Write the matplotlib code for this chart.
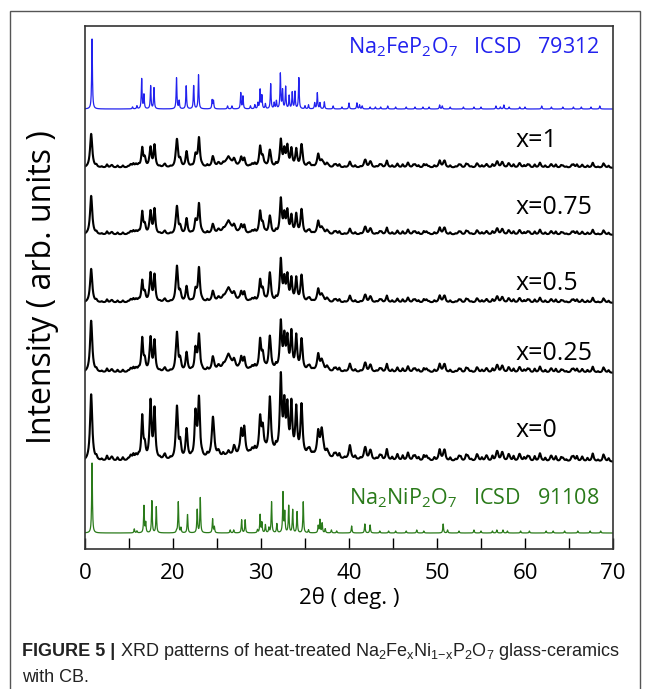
import numpy as np
import matplotlib
matplotlib.use("Agg")
import matplotlib.pyplot as plt
from matplotlib.patches import Rectangle

plt.rcParams['font.family'] = ['Open Sans', 'DejaVu Sans']
plt.rcParams['mathtext.fontset'] = 'custom'
plt.rcParams['mathtext.rm'] = 'Open Sans'
plt.rcParams['mathtext.default'] = 'regular'

# ---------------- data ----------------
# reference pattern Na2FeP2O7 (ICSD 79312): peak position (deg) / height
fe_pos = [10.8, 15.4, 15.9, 16.44, 16.7, 17.46, 17.84, 20.4, 20.7, 21.5, 22.35, 22.9,
          24.45, 24.6, 26.2, 26.7, 27.7, 27.95, 28.8, 29.3, 29.65, 29.9, 30.1, 30.5,
          31.1, 31.5, 31.75, 32.2, 32.45, 32.8, 33.2, 33.55, 33.86, 34.3, 35.0, 35.4,
          36.1, 36.4, 36.7, 37.2, 38.2, 39.2, 40.0, 40.9, 41.2, 41.5, 42.4, 43.0,
          43.6, 44.4, 45.3, 46.5, 47.5, 48.4, 49.1, 50.3, 50.6, 51.5, 53.0, 54.2,
          55.0, 56.7, 57.2, 57.6, 58.2, 59.4, 60.0, 61.9, 63.0, 64.3, 65.5, 66.4,
          67.5, 68.5]
fe_int = [70, 2, 3, 30, 14, 23, 21, 31, 8, 23, 24, 34,
          9, 8, 3, 3, 16, 13, 3, 4, 6, 19, 13, 5,
          25, 6, 8, 35, 19, 22, 13, 17, 17, 31, 3, 4,
          6, 16, 6, 7, 3, 2, 6, 6, 4, 3, 2, 2,
          2, 3, 2, 2, 2, 2, 2, 4, 3, 2, 2, 2,
          2, 3, 2, 4, 2, 2, 2, 3, 2, 2, 2, 2,
          2, 3]

# reference pattern Na2NiP2O7 (ICSD 91108)
ni_pos = [10.8, 15.6, 15.9, 16.7, 16.9, 17.6, 18.1, 20.4, 20.6, 20.9, 21.65, 22.75,
          23.1, 24.5, 24.7, 26.5, 26.9, 27.8, 28.2, 29.6, 29.9, 30.1, 30.5, 30.9,
          31.2, 31.8, 32.5, 32.7, 33.15, 33.6, 34.1, 34.8, 35.4, 36.5, 36.7, 36.95,
          37.3, 38.0, 38.6, 40.3, 41.8, 42.4, 43.5, 44.5, 45.3, 46.5, 47.7, 48.5,
          50.7, 51.2, 52.5, 54.2, 55.0, 56.3, 56.8, 57.5, 58.0, 59.5, 60.5, 62.4,
          63.2, 64.5, 66.0, 67.4, 68.6]
ni_int = [70, 4, 2, 27, 10, 32, 26, 2, 31, 5, 19, 24,
          35, 14, 6, 3, 3, 13, 13, 3, 18, 10, 8, 5,
          31, 9, 40, 20, 28, 23, 21, 31, 3, 7, 13, 10,
          4, 3, 2, 7, 9, 8, 2, 2, 2, 2, 3, 2,
          9, 3, 2, 3, 2, 2, 3, 3, 2, 2, 2, 2,
          2, 2, 2, 2, 2]

# glass-ceramic samples: shared peak positions / widths (deg)
pk_pos = [10.7, 16.5, 16.8, 17.45, 17.9, 20.45, 20.8, 21.55, 22.55, 22.95, 24.55, 26.3,
          27.75, 28.1, 29.9, 30.2, 31.0, 32.25, 32.65, 33.0, 33.45, 34.0, 34.6, 36.5,
          36.9, 40.1]
pk_w = [0.15, 0.12, 0.12, 0.12, 0.12, 0.13, 0.12, 0.13, 0.12, 0.13, 0.17, 0.5,
        0.14, 0.14, 0.14, 0.14, 0.14, 0.13, 0.12, 0.12, 0.12, 0.12, 0.13, 0.17,
        0.17, 0.17]
h_x1 = [34, 19, 8, 19, 19, 27, 6, 14, 11, 29, 8, 9, 9, 6, 18, 9, 16, 26, 16, 19, 16, 17, 21, 10, 6, 4]
h_x075 = [39, 22, 8, 22, 22, 27, 6, 14, 12, 30, 7, 12, 8, 6, 20, 9, 17, 34, 18, 21, 16, 19, 23, 10, 6, 4]
h_x05 = [34, 21, 8, 28, 24, 35, 8, 14, 11, 34, 8, 13, 9, 7, 19, 11, 28, 41, 21, 24, 21, 23, 25, 10, 7, 5]
h_x025 = [52, 33, 10, 33, 27, 38, 10, 17, 21, 36, 11, 15, 12, 9, 27, 14, 32, 46, 31, 29, 35, 33, 29, 13, 10, 6]
h_x0 = [67, 43, 12, 57, 45, 51, 14, 27, 43, 59, 37, 3, 24, 23, 31, 23, 53, 74, 45, 42, 46, 44, 47, 19, 26, 11]

# small bumps of the samples (mostly high angle)
bump_pos = [13.0, 15.2, 15.8, 19.0, 25.2, 27.0, 29.0, 35.5, 37.5, 38.5, 41.8, 42.4,
            43.5, 44.3, 45.5, 46.7, 47.5, 48.8, 50.3, 50.8, 52.5, 53.5, 54.6, 55.6,
            56.8, 57.4, 58.2, 59.4, 60.3, 61.7, 63.0, 64.3, 65.5, 66.5, 67.7, 69.0]
bump_h = [2, 3, 3, 2, 3, 4, 3, 4, 4, 3, 6, 5,
          3, 4, 3, 4, 3, 3, 6, 5, 3, 3, 3, 3,
          5, 5, 3, 4, 3, 4, 3, 2, 3, 2, 3, 2]
# fine wiggles of the measured baseline
wig_pos = np.arange(11.3, 70, 0.6)
wig_h = [2, 1, 3, 1, 2, 2, 1, 3, 2, 1, 2, 3, 1, 2, 1, 3, 2, 2, 1, 3,
         1, 2, 3, 1, 2, 2, 3, 1, 2, 1, 3, 2, 1, 2, 3, 1, 2, 2, 1, 3,
         2, 1, 3, 2, 1, 2, 3, 1, 2, 2, 1, 3, 2, 1, 2, 3, 2, 1, 3, 1,
         2, 2, 3, 1, 2, 1, 3, 2, 1, 2, 3, 1, 2, 2, 1, 3, 2, 1, 2, 3,
         1, 2, 2, 3, 1, 2, 1, 3, 2, 1, 2, 3, 1, 2, 2, 1, 3, 2]
bump_scale = [1.0, 1.0, 1.0, 1.2, 1.6]
hump_h = [0, 0, 0, 2, 8]      # amorphous hump around 31 deg

# vertical offsets of the stacked curves
off_fe = 440
off_ni = 16
off_samples = [381, 314, 246, 176, 87]
sample_labels = ['x=1', 'x=0.75', 'x=0.5', 'x=0.25', 'x=0']
sample_heights = [h_x1, h_x075, h_x05, h_x025, h_x0]
label_y = [409, 342, 266, 196, 119]

tt = np.linspace(10, 70, 3001)


def lorentz(pos, h, w):
    out = np.zeros_like(tt)
    for p, a, g in zip(pos, h, w):
        out += a * g**2 / ((tt - p)**2 + g**2)
    return out


fig = plt.figure(figsize=(6.5, 6.89), dpi=100)
# outer frame of the figure panel
fig.patches.append(Rectangle((10/650, -0.02), 630/650, 1.02 - 11/689, transform=fig.transFigure,
                             fill=False, edgecolor='#555555', linewidth=1.0))

ax = fig.add_axes([85/650, 1 - 549/689, 528/650, 523/689])

# reference patterns
ax.plot(tt, off_fe + lorentz(fe_pos, fe_int, [0.05] * len(fe_pos)), color='#2222ee', lw=0.9)
ax.plot(tt, off_ni + lorentz(ni_pos, ni_int, [0.05] * len(ni_pos)), color='#2a7a1a', lw=0.9)

# samples
for i in range(5):
    y = lorentz(pk_pos, sample_heights[i], pk_w)
    y += lorentz(bump_pos, np.array(bump_h) * bump_scale[i], [0.15] * len(bump_pos))
    y += lorentz(wig_pos, np.array(wig_h) * bump_scale[i], [0.1] * len(wig_pos))
    y += lorentz([31.5], [hump_h[i]], [5.0])
    ax.plot(tt, off_samples[i] + y, color='black', lw=1.5)
    ax.text(58.9, label_y[i], sample_labels[i], fontsize=18, va='center', ha='left')

ax.text(68.5, 502, r'Na$_2$FeP$_2$O$_7$   ICSD   79312', color='#2222ee',
        fontsize=15.5, ha='right', va='center')
ax.text(68.5, 51, r'Na$_2$NiP$_2$O$_7$   ICSD   91108', color='#2a7a1a',
        fontsize=15.5, ha='right', va='center')

ax.set_xlim(10, 70)
ax.set_ylim(0, 523)
ax.set_xticks([10, 20, 30, 40, 50, 60, 70])
ax.set_xticklabels(['0', '20', '30', '40', '50', '60', '70'])
ax.set_xticks(np.arange(15, 70, 10), minor=True)
ax.tick_params(axis='x', which='both', direction='in', length=8, width=1.0,
               labelsize=16, pad=10)
ax.set_yticks([])
for s in ax.spines.values():
    s.set_color('#333333')
    s.set_linewidth(1.2)
ax.set_xlabel('2θ ( deg. )', fontsize=16, labelpad=2)
ax.set_ylabel('Intensity ( arb. units )', fontsize=23)
ax.yaxis.set_label_coords(-0.05, 0.5)

# caption
cap_font = ['Liberation Sans Narrow', 'Liberation Sans', 'DejaVu Sans']
t1 = fig.text(22/650, 1 - 651/689, 'FIGURE 5 | ', fontsize=13, fontweight='bold',
              family=cap_font, va='center', color='#222222')
r = fig.canvas.get_renderer()
bb = t1.get_window_extent(r)
fig.text(bb.x1 / 650, 1 - 651/689,
         r'XRD patterns of heat-treated Na$_2$Fe$_x$Ni$_{1{-}x}$P$_2$O$_7$ glass-ceramics',
         fontsize=13, family=cap_font, va='center', color='#222222')
fig.text(22/650, 1 - 677/689, 'with CB.', fontsize=13, family=cap_font, va='center',
         color='#222222')

plt.savefig('out.png', dpi=100)
